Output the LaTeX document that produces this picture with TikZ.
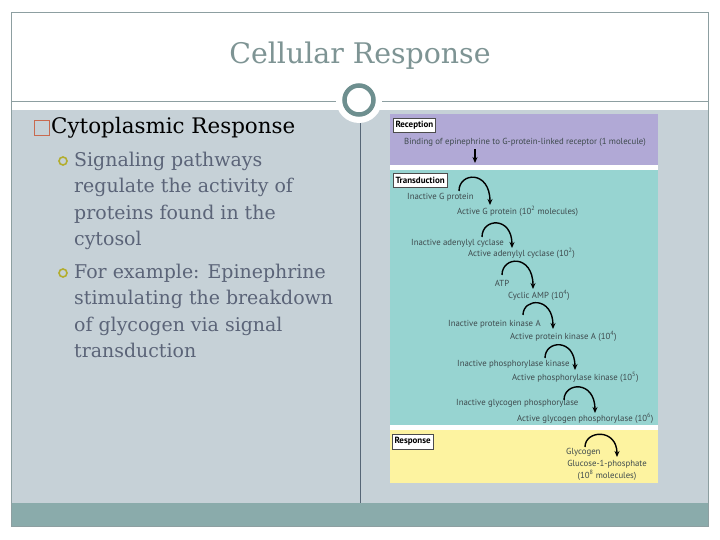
\documentclass[tikz,border=0pt]{standalone}
\usepackage{fontspec}
\setmainfont{DejaVu Serif}
\newfontfamily\figfont{PT Sans}
\usetikzlibrary{arrows.meta}

\definecolor{framecol}{HTML}{8D9FA1}
\definecolor{titlecol}{HTML}{7E9494}
\definecolor{slidebg}{HTML}{C6D1D7}
\definecolor{bandcol}{HTML}{8AABAB}
\definecolor{ringcol}{HTML}{6E8F8F}
\definecolor{divcol}{HTML}{566676}
\definecolor{boxcol}{HTML}{C86A50}
\definecolor{bulletcol}{HTML}{B3AD2D}
\definecolor{bodycol}{HTML}{5B6478}
\definecolor{recpcol}{HTML}{B1A9D6}
\definecolor{trancol}{HTML}{97D4D1}
\definecolor{respcol}{HTML}{FDF3A0}
\definecolor{figtext}{HTML}{3E4A4D}

\tikzset{
  stagelabel/.style={draw=black!70,fill=white,line width=0.6bp,inner sep=2.2bp,
    minimum height=14.5bp,font=\figfont\fontsize{9}{10}\selectfont\bfseries},
  figlabel/.style={inner sep=0pt,text=figtext,font=\figfont\fontsize{8.8}{9.8}\selectfont},
  cascade/.style={line width=1.4bp,-{Stealth[length=6bp,width=5bp]}},
  bullettext/.style={anchor=north west,inner sep=0pt,align=left,text=bodycol,
    font=\fontsize{19}{26.4}\selectfont},
}

\begin{document}
\begin{tikzpicture}[x=1bp,y=-1bp]
  \useasboundingbox (0,0) rectangle (720,540);
  \fill[white] (0,0) rectangle (720,540);

  % slide frame and title
  \fill[slidebg] (11,110) rectangle (708,503);
  \fill[bandcol] (11,503) rectangle (708,526);
  \draw[framecol,line width=0.8bp] (11,12) rectangle (708,526);
  \draw[framecol,line width=0.8bp] (11,101) -- (708,101);
  \node[text=titlecol,font=\fontsize{28.5}{34}\selectfont] (title) at (360,56) {Cellular Response};
  \draw[divcol,line width=0.8bp] (360,118) -- (360,503);
  \fill[white] (359,100) circle (23);
  \draw[ringcol,line width=4.5bp] (359,100) circle (14.5);

  % left text
  \node[draw=boxcol,line width=1.1bp,minimum size=15bp,inner sep=0pt] (sq) at (42,128) {};
  \node[anchor=west,inner sep=0pt,font=\fontsize{21.5}{26}\selectfont] (head) at (51,128) {Cytoplasmic Response};
  \node[draw=bulletcol,line width=1.6bp,circle,minimum size=8bp,inner sep=0pt] (b1) at (63,161) {};
  \node[bullettext] (item1) at (74,152) {Signaling pathways\\regulate the activity of\\proteins found in the\\cytosol};
  \node[draw=bulletcol,line width=1.6bp,circle,minimum size=8bp,inner sep=0pt] (b2) at (63,273) {};
  \node[bullettext] (item2) at (74,264) {For example: Epinephrine\\stimulating the breakdown\\of glycogen via signal\\transduction};

  % figure panels
  \fill[white] (390,114) rectangle (658,483);
  \fill[recpcol] (390,114) rectangle (658,165);
  \fill[trancol] (390,170) rectangle (658,425);
  \fill[respcol] (390,430) rectangle (658,483);

  \node[stagelabel,anchor=north west] (recp) at (393,118) {Reception};
  \node[stagelabel,anchor=north west] (tran) at (393,173) {Transduction};
  \node[stagelabel,anchor=north west] (resp) at (392,434) {Response};

  \node[figlabel] (bind) at (525,142) {Binding of epinephrine to G-protein-linked receptor (1 molecule)};
  \coordinate (bindend) at (475,163);
  \draw[line width=1.4bp,-{Stealth[length=6bp,width=5bp]}] (bind.south -| bindend) ++(0,3) -- (bindend);

  \node[figlabel,anchor=west] (ig) at (407,197) {Inactive G protein};
  \node[figlabel,anchor=west] (ag) at (457,211) {Active G protein (10\textsuperscript{2} molecules)};
  \node[figlabel,anchor=west] (iac) at (411,243) {Inactive adenylyl cyclase};
  \node[figlabel,anchor=west] (aac) at (468,253) {Active adenylyl cyclase (10\textsuperscript{2})};
  \node[figlabel] (atp) at (502,283) {ATP};
  \node[figlabel,anchor=west] (camp) at (508,295) {Cyclic AMP (10\textsuperscript{4})};
  \node[figlabel,anchor=west] (ipk) at (448,324) {Inactive protein kinase A};
  \node[figlabel,anchor=west] (apk) at (510,336) {Active protein kinase A (10\textsuperscript{4})};
  \node[figlabel,anchor=west] (iphk) at (457,364) {Inactive phosphorylase kinase};
  \node[figlabel,anchor=west] (aphk) at (512,377) {Active phosphorylase kinase (10\textsuperscript{5})};
  \node[figlabel,anchor=west] (igp) at (456,403) {Inactive glycogen phosphorylase};
  \node[figlabel,anchor=west] (agp) at (517,418) {Active glycogen phosphorylase (10\textsuperscript{6})};
  \node[figlabel,anchor=west] (glyc) at (566,452) {Glycogen};
  \node[figlabel] (g1p) at (607,464) {Glucose-1-phosphate};
  \node[figlabel] (mol) at (607,475) {(10\textsuperscript{8} molecules)};

  % cascade arrows
  \coordinate (s1) at (459,191); \coordinate (e1) at (490,205);
  \coordinate (s2) at (482,237); \coordinate (e2) at (512,248);
  \coordinate (s3) at (502,275); \coordinate (e3) at (533,289);
  \coordinate (s4) at (523,315); \coordinate (e4) at (553,329);
  \coordinate (s5) at (545,358); \coordinate (e5) at (575,370);
  \coordinate (s6) at (564,400); \coordinate (e6) at (595,413);
  \coordinate (s7) at (585,447); \coordinate (e7) at (617,457);
  \draw[cascade] (s1) .. controls (459,172) and (490,170) .. (e1);
  \draw[cascade] (s2) .. controls (482,218) and (512,216) .. (e2);
  \draw[cascade] (s3) .. controls (502,256) and (533,254) .. (e3);
  \draw[cascade] (s4) .. controls (523,298) and (553,296) .. (e4);
  \draw[cascade] (s5) .. controls (545,340) and (575,338) .. (e5);
  \draw[cascade] (s6) .. controls (564,382) and (595,380) .. (e6);
  \draw[cascade] (s7) .. controls (585,430) and (617,428) .. (e7);
\end{tikzpicture}
\end{document}
